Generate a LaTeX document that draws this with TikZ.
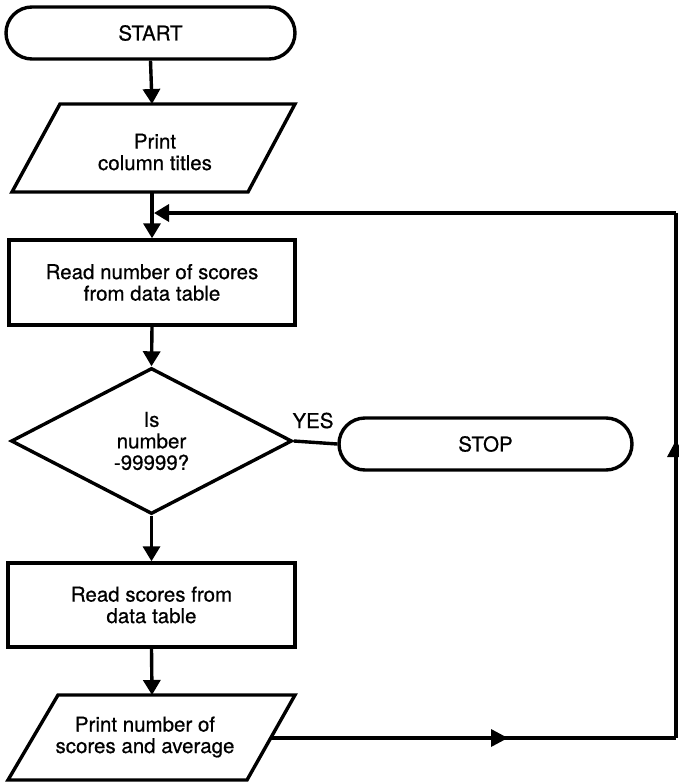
\documentclass[tikz,border=0pt]{standalone}
\usepackage{fontspec}
\setmainfont{TeX Gyre Heros}[FakeBold=0.6]
\usetikzlibrary{shapes.geometric,arrows.meta,decorations.markings}
\begin{document}
\begin{tikzpicture}[x=1pt,y=-1pt,
  line width=3.4pt,
  txt/.style={font=\fontsize{20.5}{21.5}\selectfont, align=center, inner sep=0pt},
  term/.style={txt, draw, rectangle, rounded corners=26pt, minimum height=52pt},
  proc/.style={txt, draw, rectangle},
  decis/.style={txt, draw, diamond, minimum width=281pt, minimum height=146pt},
  arr/.style={-{Triangle[length=15pt,width=17pt]}},
  midarr/.style={postaction={decorate},
    decoration={markings, mark=at position #1 with {\arrow{Triangle[length=17pt,width=17pt]}}}}
]
\fill[white] (0,0) rectangle (678,782);
\useasboundingbox (0,0) rectangle (678,782);

% shapes
\node[term, minimum width=289pt] (start) at (150.5,33) {START};

\draw[line join=miter] (60,104) -- (295,104) -- (248,192) -- (12,192) -- cycle;
\node[txt] (p1) at (155,152) {Print\\column titles};
\coordinate (p1t) at (152,104);
\coordinate (p1b) at (152,192);

\node[proc, minimum width=286pt, minimum height=85pt] (r1) at (152,282.5) {Read number of scores\\from data table};

\node[decis] (dia) at (151.5,441) {Is\\number\\-99999?};

\node[term, minimum width=293pt] (stop) at (485.5,444) {STOP};
\node[txt, anchor=base] (yes) at (313,428) {YES};

\node[proc, minimum width=287pt, minimum height=84pt] (r2) at (151.5,605) {Read scores from\\data table};

\draw[line join=miter] (58,695) -- (295,695) -- (247,780) -- (8,780) -- cycle;
\node[txt] (p2) at (145,737) {Print number of\\scores and average};
\coordinate (p2t) at (152,695);
\coordinate (p2r) at (271,738);

% connectors
\coordinate (j) at (152,213);
\coordinate (c1) at (676,738);
\coordinate (c2) at (676,213);

\draw[arr] (start.south) -- (p1t);
\draw[arr] (p1b) -- (r1.north);
\draw[arr] (r1.south) -- (dia.north);
\draw (dia.east) -- (stop.west);
\draw[arr] (dia.south) -- (r2.north);
\draw[arr] (r2.south) -- (p2t);
\draw[midarr=237pt] (p2r) -- (c1);
\draw[midarr=298pt] (c1) -- (c2);
\draw[arr, shorten >=2pt] (c2) -- (j);
\end{tikzpicture}
\end{document}
